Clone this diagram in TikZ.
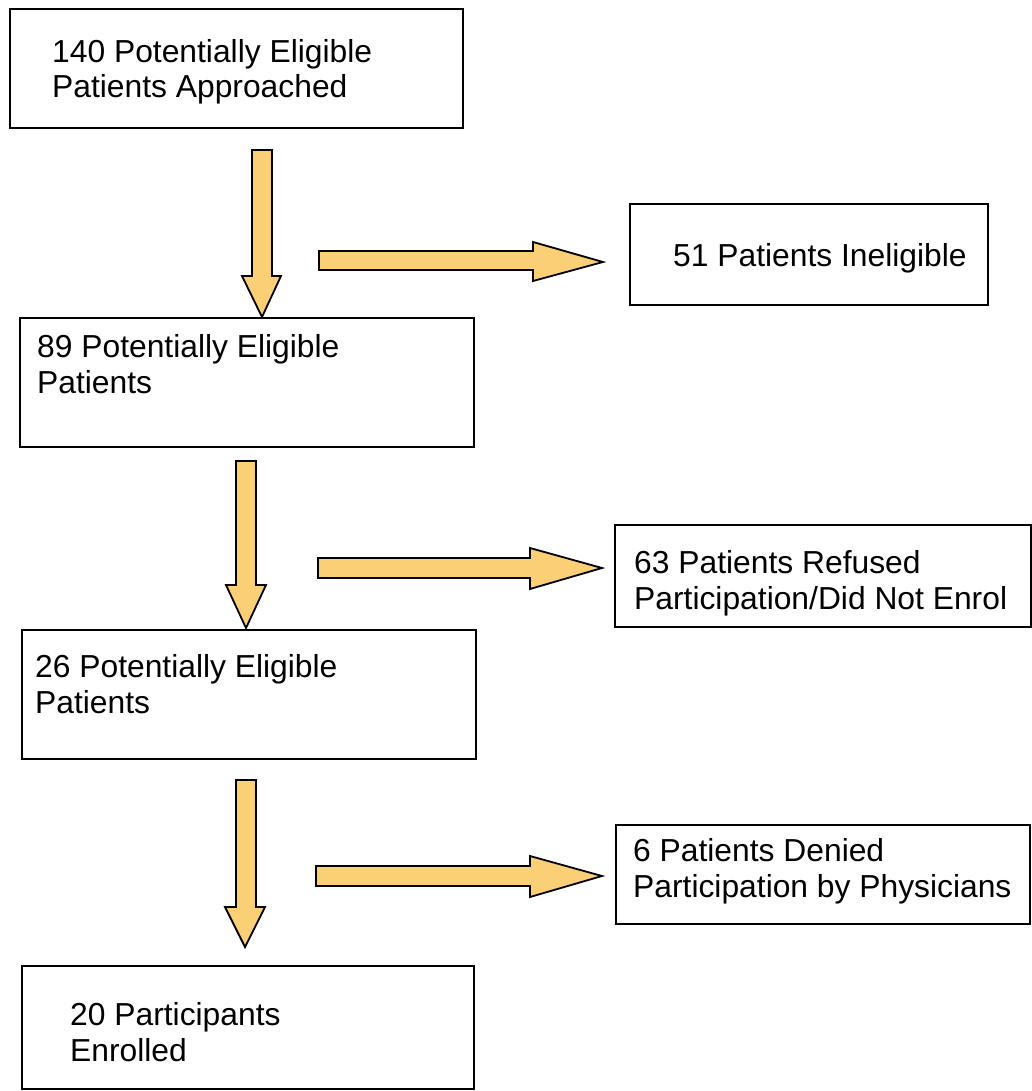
\documentclass[tikz,border=0pt]{standalone}
\usepackage{fontspec}
\setmainfont{Liberation Sans}
\definecolor{arrowfill}{RGB}{250,207,118}
\begin{document}
\begin{tikzpicture}[x=1pt,y=-1pt,
  box/.style={draw=black,line width=1.4pt,fill=white,inner sep=0pt,outer sep=0pt},
  lbl/.style={anchor=base west,inner sep=0pt,align=left,font=\fontsize{31.8}{35.5}\selectfont},
  blockarrow/.style={draw=black,line width=1.8pt,fill=arrowfill,line join=miter}]
\useasboundingbox[fill=white] (0,0) rectangle (1032,1091);
% boxes
\node[box,minimum width=453pt,minimum height=119pt] (b1) at (236.5,68.5) {};
\node[box,minimum width=358pt,minimum height=101pt] (b2) at (809,254.5) {};
\node[box,minimum width=454pt,minimum height=129pt] (b3) at (247,382.5) {};
\node[box,minimum width=416pt,minimum height=102pt] (b4) at (823,576) {};
\node[box,minimum width=454pt,minimum height=129pt] (b5) at (249,694.5) {};
\node[box,minimum width=414pt,minimum height=99pt] (b6) at (823,874.5) {};
\node[box,minimum width=452pt,minimum height=123pt] (b7) at (248,1027.5) {};
% texts (base anchor = baseline of the last line)
\node[lbl] (t1) at (52,98) {140 Potentially Eligible\\Patients Approached};
\node[lbl] (t2) at (673,266) {51 Patients Ineligible};
\node[lbl] (t3) at (37,393) {89 Potentially Eligible\\Patients};
\node[lbl] (t4) at (634,609) {63 Patients Refused\\Participation/Did Not Enrol};
\node[lbl] (t5) at (35,713) {26 Potentially Eligible\\Patients};
\node[lbl] (t6) at (633,897) {6 Patients Denied\\Participation by Physicians};
\node[lbl] (t7) at (70,1061) {20 Participants\\Enrolled};
% down arrows
\draw[blockarrow] (252,150) -- (272,150) -- (272,276) -- (281,276) -- (262,317) -- (242,276) -- (252,276) -- cycle;
\draw[blockarrow] (236,461) -- (256,461) -- (256,585) -- (266,585) -- (246,628) -- (226,585) -- (236,585) -- cycle;
\draw[blockarrow] (236,780) -- (256,780) -- (256,907) -- (265,907) -- (245,947) -- (225,907) -- (236,907) -- cycle;
% right arrows
\draw[blockarrow] (319,251) -- (533,251) -- (533,242) -- (603,262) -- (533,281) -- (533,270) -- (319,270) -- cycle;
\draw[blockarrow] (318,558) -- (530,558) -- (530,548) -- (602,568) -- (530,589) -- (530,578) -- (318,578) -- cycle;
\draw[blockarrow] (316,866) -- (530,866) -- (530,856) -- (602,876) -- (530,897) -- (530,886) -- (316,886) -- cycle;
\end{tikzpicture}
\end{document}
